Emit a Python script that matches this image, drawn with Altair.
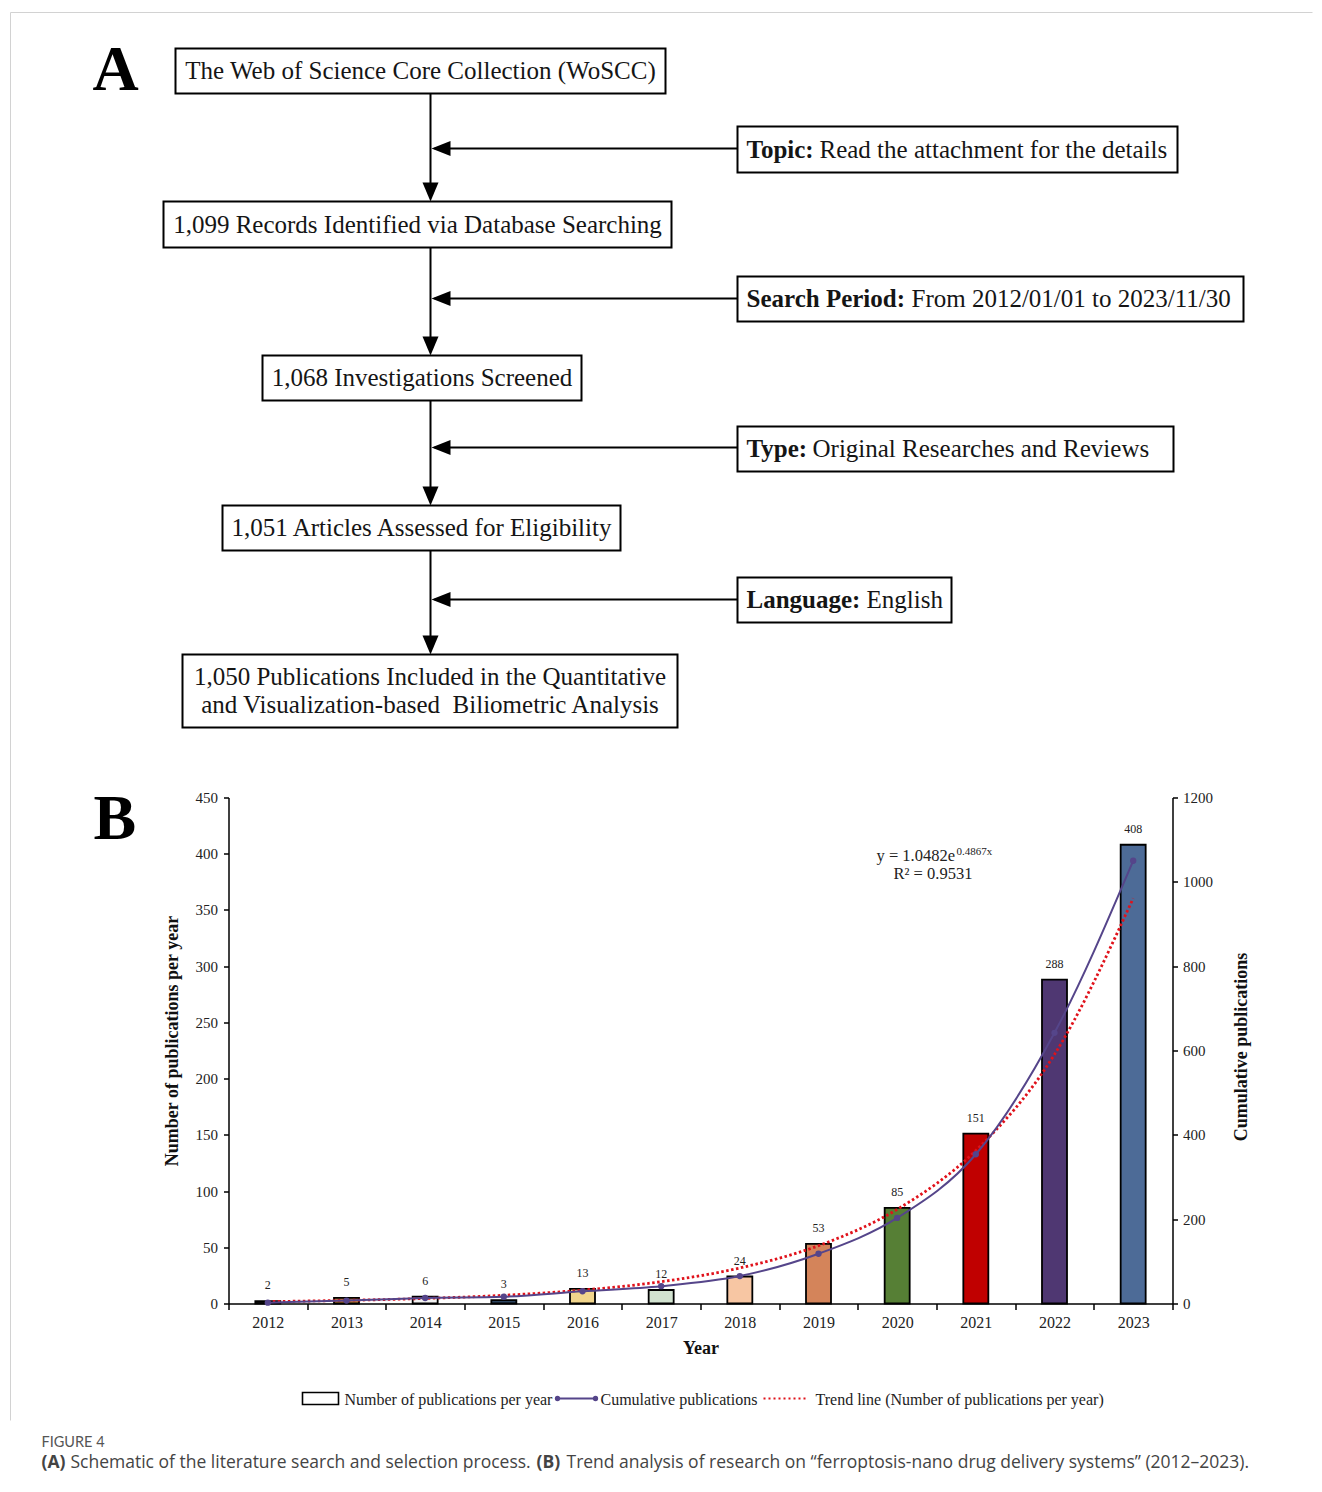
import altair as alt
import pandas as pd

# ---------------- data (panel B) ----------------
years = [str(y) for y in range(2012, 2024)]
pubs = [2, 5, 6, 3, 13, 12, 24, 53, 85, 151, 288, 408]
cumulative = [2, 7, 13, 16, 29, 41, 65, 118, 203, 354, 642, 1050]
trend = [1.7, 2.8, 4.5, 7.3, 11.9, 19.4, 31.6, 51.4, 83.7, 136.1, 221.5, 360.3]
bar_colors = ["#1e1e1e", "#c8853a", "#f3f3f3", "#2d4560", "#f1d58c", "#d2e3d0",
              "#f7c6a3", "#d4845a", "#567f35", "#c00000", "#4f3772", "#4d6b97"]
left_ticks = [0, 50, 100, 150, 200, 250, 300, 350, 400, 450]
right_ticks = [0, 200, 400, 600, 800, 1000, 1200]

# ---------------- texts (panel A) ----------------
main_texts = ["The Web of Science Core Collection (WoSCC)",
              "1,099 Records Identified via Database Searching",
              "1,068 Investigations Screened",
              "1,051 Articles Assessed for Eligibility",
              "1,050 Publications Included in the Quantitative",
              "and Visualization-based\u00a0 Biliometric Analysis"]
side_bold = ["Topic:", "Search Period:", "Type:", "Language:"]
side_text = ["Read the attachment for the details", "From 2012/01/01 to 2023/11/30",
             "Original Researches and Reviews", "English"]
legend_texts = ["Number of publications per year", "Cumulative publications",
                "Trend line (Number of publications per year)"]
caption_bold = ["(A)", "(B)"]
caption_text = ["Schematic of the literature search and selection process.",
                "Trend analysis of research on \u201cferroptosis-nano drug delivery systems\u201d (2012\u20132023)."]

# ---------------- layout (page pixels) ----------------
X0, Y0 = 228, 797          # page position of the plot origin
W, H = 944, 506
main_boxes = [(175, 48, 665, 93), (163, 201, 671, 247), (262, 355, 581, 400),
              (222, 505, 620, 550), (182, 654, 677, 727)]
side_boxes = [(737, 126, 1177, 172), (737, 276, 1243, 321), (737, 426, 1173, 471),
              (737, 577, 951, 622)]
main_text_pos = [(420, 70), (417, 224), (421.5, 377), (421, 527), (429.5, 676), (429.5, 704)]
side_y = [148, 298, 447, 599]
side_bold_x = 746
side_text_x = [819, 911, 812, 866]
SPINE_X = 430

FONT = "Liberation Serif"
INK = "#151515"
PURPLE = "#55458a"
RED = "#e0121b"


def rx(v):
    return v - X0


def ry(v):
    return v - Y0


def XP(f="x"):
    return alt.X(f"{f}:Q", scale=None, axis=None)


def YP(f="y"):
    return alt.Y(f"{f}:Q", scale=None, axis=None)


# ---------------- panel B ----------------
df = pd.DataFrame({"year": years, "pubs": pubs, "cum": cumulative, "trend": trend})

x_enc = alt.X("year:N", sort=years,
              scale=alt.Scale(paddingInner=0, paddingOuter=0),
              axis=alt.Axis(title="Year", tickBand="extent", labelAngle=0, tickSize=6,
                            labelPadding=5, titlePadding=9, labelFontSize=16,
                            titleFontSize=18, domainWidth=1.5, tickWidth=1.5))
base = alt.Chart(df).encode(x=x_enc)
LT = "Number of publications per year"
RT = "Cumulative publications"
yscaleL = alt.Scale(domain=[0, 450], nice=False)

bars = base.mark_bar(size=25, stroke="black", strokeWidth=1.8).encode(
    y=alt.Y("pubs:Q", scale=yscaleL, title=LT,
            axis=alt.Axis(values=left_ticks, format="d", tickSize=5, labelPadding=6,
                          titlePadding=14, titleY=243, labelFontSize=15, titleFontSize=18,
                          domainWidth=1.5, tickWidth=1.5)),
    color=alt.Color("year:N", scale=alt.Scale(domain=years, range=bar_colors), legend=None))
trend_line = base.mark_line(color=RED, strokeDash=[2.5, 2.5], strokeWidth=2.8,
                            interpolate="monotone").encode(y=alt.Y("trend:Q", title=LT))
labels = base.mark_text(baseline="bottom", dy=-9, font=FONT, fontSize=12, color="#222").encode(
    y=alt.Y("pubs:Q", title=LT), text="pubs:Q")
left = alt.layer(bars, trend_line, labels)

cum_line = base.mark_line(color=PURPLE, strokeWidth=2, interpolate="monotone").encode(
    y=alt.Y("cum:Q", scale=alt.Scale(domain=[0, 1200], nice=False), title=RT,
            axis=alt.Axis(orient="right", values=right_ticks, format="d", tickSize=5,
                          labelPadding=5, titlePadding=38, titleAngle=270, titleY=249,
                          labelFontSize=15, titleFontSize=18, domainWidth=1.5, tickWidth=1.5)))
cum_pts = base.mark_point(filled=True, size=40, opacity=1, color=PURPLE).encode(
    y=alt.Y("cum:Q", title=RT))
right = alt.layer(cum_line, cum_pts)

main = alt.layer(left, right).resolve_scale(y="independent")

# ---------------- panel A (flow chart) ----------------
boxes = main_boxes + side_boxes
box_df = pd.DataFrame({"x": [rx(b[0]) for b in boxes], "x2": [rx(b[2]) for b in boxes],
                       "y": [ry(b[1]) for b in boxes], "y2": [ry(b[3]) for b in boxes]})
box_layer = alt.Chart(box_df).mark_rect(fillOpacity=0, stroke="black", strokeWidth=2).encode(
    x=XP(), x2="x2:Q", y=YP(), y2="y2:Q")

seg = []
for i in range(len(main_boxes) - 1):
    seg.append((SPINE_X, main_boxes[i][3], SPINE_X, main_boxes[i + 1][1] - 4))
for i, yy in enumerate(side_y):
    seg.append((side_boxes[i][0], yy, SPINE_X + 4, yy))
seg_df = pd.DataFrame({"x": [rx(s[0]) for s in seg], "y": [ry(s[1]) for s in seg],
                       "x2": [rx(s[2]) for s in seg], "y2": [ry(s[3]) for s in seg]})
seg_layer = alt.Chart(seg_df).mark_rule(color="black", strokeWidth=2).encode(
    x=XP(), y=YP(), x2="x2:Q", y2="y2:Q")

down_df = pd.DataFrame({"x": [rx(SPINE_X)] * 4, "y": [ry(b[1]) for b in main_boxes[1:]]})
down_layer = alt.Chart(down_df).mark_point(
    shape="M -1.6 -3.8 L 1.6 -3.8 L 0 0 Z", size=100, filled=True, opacity=1,
    color="black", strokeWidth=0).encode(x=XP(), y=YP())
leftar_df = pd.DataFrame({"x": [rx(SPINE_X + 1)] * 4, "y": [ry(v) for v in side_y]})
leftar_layer = alt.Chart(leftar_df).mark_point(
    shape="M 0 0 L 3.8 -1.5 L 3.8 1.5 Z", size=100, filled=True, opacity=1,
    color="black", strokeWidth=0).encode(x=XP(), y=YP())

mt_df = pd.DataFrame({"t": main_texts, "x": [rx(p[0]) for p in main_text_pos],
                      "y": [ry(p[1]) for p in main_text_pos]})
mt_layer = alt.Chart(mt_df).mark_text(font=FONT, fontSize=25, color=INK, align="center",
                                      baseline="middle").encode(x=XP(), y=YP(), text="t:N")
sb_df = pd.DataFrame({"t": side_bold, "x": [rx(side_bold_x)] * 4,
                      "y": [ry((b[1] + b[3]) / 2) for b in side_boxes]})
sb_layer = alt.Chart(sb_df).mark_text(font=FONT, fontSize=25, fontWeight="bold", color=INK,
                                      align="left", baseline="middle").encode(
    x=XP(), y=YP(), text="t:N")
st_df = pd.DataFrame({"t": side_text, "x": [rx(v) for v in side_text_x],
                      "y": [ry((b[1] + b[3]) / 2) for b in side_boxes]})
st_layer = alt.Chart(st_df).mark_text(font=FONT, fontSize=25, color=INK,
                                      align="left", baseline="middle").encode(
    x=XP(), y=YP(), text="t:N")

# panel letters
let_df = pd.DataFrame({"t": ["A", "B"], "x": [rx(92), rx(93)], "y": [ry(89), ry(838)]})
let_layer = alt.Chart(let_df).mark_text(font=FONT, fontSize=64, fontWeight="bold", color="black",
                                        align="left", baseline="alphabetic").encode(
    x=XP(), y=YP(), text="t:N")

# equation annotation
eq_df = pd.DataFrame({"t": ["y = 1.0482e", "R\u00b2 = 0.9531"], "x": [rx(876), rx(893)],
                      "y": [ry(860), ry(878)]})
eq_layer = alt.Chart(eq_df).mark_text(font=FONT, fontSize=16.5, color="#222", align="left",
                                      baseline="alphabetic").encode(x=XP(), y=YP(), text="t:N")
sup_df = pd.DataFrame({"t": ["0.4867x"], "x": [rx(956)], "y": [ry(854)]})
sup_layer = alt.Chart(sup_df).mark_text(font=FONT, fontSize=11, color="#222", align="left",
                                        baseline="alphabetic").encode(x=XP(), y=YP(), text="t:N")

# ---------------- custom legend ----------------
LGY = 1398
lrect_df = pd.DataFrame({"x": [rx(302)], "x2": [rx(338)], "y": [ry(LGY - 6)], "y2": [ry(LGY + 6)]})
lrect = alt.Chart(lrect_df).mark_rect(fill="white", stroke="black", strokeWidth=1.6).encode(
    x=XP(), x2="x2:Q", y=YP(), y2="y2:Q")
lline_df = pd.DataFrame({"x": [rx(557)], "x2": [rx(595)], "y": [ry(LGY)], "y2": [ry(LGY)]})
lline = alt.Chart(lline_df).mark_rule(color=PURPLE, strokeWidth=2).encode(
    x=XP(), x2="x2:Q", y=YP(), y2="y2:Q")
ldots_df = pd.DataFrame({"x": [rx(557), rx(595)], "y": [ry(LGY), ry(LGY)]})
ldots = alt.Chart(ldots_df).mark_point(filled=True, size=28, opacity=1, color=PURPLE).encode(
    x=XP(), y=YP())
ltrend_df = pd.DataFrame({"x": [rx(763)], "x2": [rx(808)], "y": [ry(LGY)], "y2": [ry(LGY)]})
ltrend = alt.Chart(ltrend_df).mark_rule(color=RED, strokeWidth=2.2, strokeDash=[2, 3]).encode(
    x=XP(), x2="x2:Q", y=YP(), y2="y2:Q")
ltext_df = pd.DataFrame({"t": legend_texts, "x": [rx(344), rx(600), rx(815)],
                         "y": [ry(LGY + 1)] * 3})
ltext = alt.Chart(ltext_df).mark_text(font=FONT, fontSize=16, color="#222", align="left",
                                      baseline="middle").encode(x=XP(), y=YP(), text="t:N")

# ---------------- caption & frame ----------------
fig_df = pd.DataFrame({"t": ["FIGURE 4"], "x": [rx(41)], "y": [ry(1446)]})
fig_layer = alt.Chart(fig_df).mark_text(font="Lato", fontSize=14.5, color="#555", align="left",
                                        baseline="alphabetic").encode(x=XP(), y=YP(), text="t:N")
capb_df = pd.DataFrame({"t": caption_bold, "x": [rx(41), rx(536)], "y": [ry(1467)] * 2})
capb_layer = alt.Chart(capb_df).mark_text(font="Open Sans", fontSize=17.5, fontWeight="bold",
                                          color="#444", align="left", baseline="alphabetic").encode(
    x=XP(), y=YP(), text="t:N")
capt_df = pd.DataFrame({"t": caption_text, "x": [rx(70), rx(566)], "y": [ry(1467)] * 2})
capt_layer = alt.Chart(capt_df).mark_text(font="Open Sans", fontSize=17.5, color="#444",
                                          align="left", baseline="alphabetic").encode(
    x=XP(), y=YP(), text="t:N")
frame_df = pd.DataFrame({"x": [rx(10), rx(10)], "x2": [rx(1312), rx(10)],
                         "y": [ry(12), ry(12)], "y2": [ry(12), ry(1420)]})
frame = alt.Chart(frame_df).mark_rule(color="#d2d2d2", strokeWidth=1).encode(
    x=XP(), x2="x2:Q", y=YP(), y2="y2:Q")

flow = alt.layer(frame, box_layer, seg_layer, down_layer, leftar_layer, mt_layer, sb_layer,
                 st_layer, let_layer, eq_layer, sup_layer, lrect, lline, ldots, ltrend, ltext,
                 fig_layer, capb_layer, capt_layer)

chart = alt.layer(main, flow).properties(
    width=W, height=H,
    padding={"left": 1.5, "top": 3.5, "right": 0, "bottom": 0},
).configure_view(stroke=None).configure_axis(
    labelFont=FONT, titleFont=FONT, labelColor="#222", titleColor="#111",
    domainColor="black", tickColor="black", grid=False, titleFontWeight="bold",
)

chart.save("out.html", embed_options={"renderer": "svg", "actions": False})
